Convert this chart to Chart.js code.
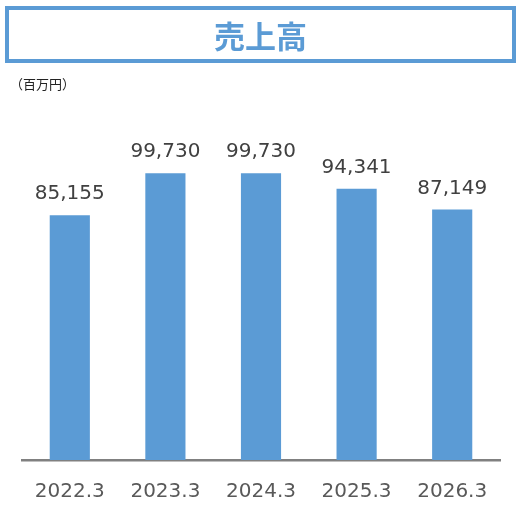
<!DOCTYPE html>
<html>
<head>
<meta charset="utf-8">
<script src="https://cdn.jsdelivr.net/npm/chart.js@4"></script>
<style>
  body { margin: 0; background: #fff; }
  #wrap { position: relative; width: 527px; height: 513px; }
  #titleBox {
    position: absolute; left: 5px; top: 6px; width: 503px; height: 49px;
    border: 4px solid #5b9bd5; text-align: center;
    font-family: "Noto Sans CJK JP", sans-serif; font-weight: bold;
    font-size: 31px; line-height: 49px; color: #5b9bd5;
  }
  #unit {
    position: absolute; left: 10px; top: 74px;
    font-family: "Noto Sans CJK JP", sans-serif; font-size: 13px; color: #222;
  }
  canvas { position: absolute; left: 0; top: 0; }
</style>
</head>
<body>
<div id="wrap">
  <canvas id="grafico" width="527" height="513"></canvas>
  <div id="titleBox">売上高</div>
  <div id="unit">（百万円）</div>
</div>
<script>
// categorias e valores
let anos = ['2022.3', '2023.3', '2024.3', '2025.3', '2026.3'];
let vendas = [85155, 99730, 99730, 94341, 87149];

// rotulos em cima das barras
let rotulos = {
    id: 'rotulos',
    afterDatasetsDraw(chart) {
        let ctx = chart.ctx;
        let meta = chart.getDatasetMeta(0);
        ctx.save();
        ctx.font = '20px "DejaVu Sans"';
        ctx.fillStyle = '#404040';
        ctx.textAlign = 'center';
        ctx.textBaseline = 'middle';
        meta.data.forEach((bar, i) => {
            ctx.fillText(vendas[i].toLocaleString('en-US'), bar.x, bar.y - 21);
        });
        ctx.restore();
    }
};

let grafico = document.getElementById('grafico').getContext('2d');

let chart = new Chart(grafico, {
    type: 'bar',
    data: {
        labels: anos,
        datasets: [
            {
                label: '売上高',
                data: vendas,
                backgroundColor: '#5b9bd5',
                borderWidth: 0,
                categoryPercentage: 1,
                barPercentage: 0.42
            }
        ]
    },
    options: {
        responsive: false,
        animation: false,
        layout: { padding: { left: 22, right: 27, top: 115, bottom: 10 } },
        plugins: {
            legend: { display: false },
            tooltip: { enabled: false }
        },
        scales: {
            x: {
                grid: { display: false, drawTicks: false },
                border: { display: true, color: '#808080', width: 2.5 },
                ticks: {
                    padding: 20,
                    color: '#595959',
                    font: { family: 'DejaVu Sans', size: 20 }
                },
                afterFit(scale) { scale.height = 43; }
            },
            y: {
                display: false,
                min: 0,
                max: 120000
            }
        }
    },
    plugins: [rotulos]
});
</script>
</body>
</html>
